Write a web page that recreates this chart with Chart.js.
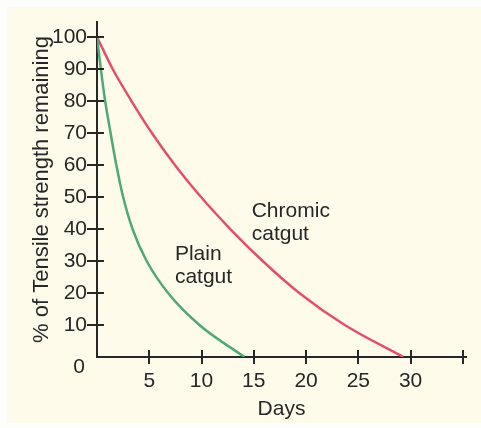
<!DOCTYPE html>
<html>
<head>
<meta charset="utf-8">
<script src="https://cdn.jsdelivr.net/npm/chart.js@4/dist/chart.umd.min.js"></script>
<style>
  html, body { margin: 0; padding: 0; background: #fdfdfb; }
  #panel { position: absolute; left: 7px; top: 7px; width: 474px; height: 416px; background: #fffbea; }
  canvas { display: block; }
</style>
</head>
<body>
<div id="panel"><canvas id="chart_catgut" width="474" height="416"></canvas></div>
<script>
// values
var plainDays = [0, 0.37, 0.78, 1.3, 1.85, 2.5, 3.4, 4.75, 6.8, 9.8, 14.1];
var plainStrength = [100, 90, 80, 70, 60, 50, 40, 30, 20, 10, 0];
var chromicDays = [0, 1.5, 3.3, 5.25, 7.45, 9.95, 12.75, 15.85, 19.35, 23.7, 29.3];
var chromicStrength = [100, 90, 80, 70, 60, 50, 40, 30, 20, 10, 0];

var yTicks = [0, 10, 20, 30, 40, 50, 60, 70, 80, 90, 100];
var xTicks = [0, 5, 10, 15, 20, 25, 30, 35];
var xTickLabels = ['', '5', '10', '15', '20', '25', '30', ''];
var curveNames = ['Plain catgut', 'Chromic catgut'];

var cores = ['#4ea878', '#e24f6b'];
var ink = '#272727';
var fontFamily = '"Liberation Sans", Arial, Helvetica, sans-serif';
var fontSize = 21;

function toPoints(xs, ys) {
    return xs.map(function(x, i) { return { x: x, y: ys[i] }; });
}

// tick marks that cross the axes, the lone "0" at the corner, and the curve labels
var axisExtras = {
    id: 'axisExtras',
    afterDraw: function(chart) {
        var ctx = chart.ctx;
        var xs = chart.scales.x, ys = chart.scales.y;
        var x0 = xs.getPixelForValue(0) - 1;
        var y0 = ys.getPixelForValue(0);
        ctx.save();
        ctx.strokeStyle = ink;
        ctx.lineWidth = 2;
        ctx.beginPath();
        yTicks.forEach(function(v) {
            if (v === 0) return;
            var p = Math.round(ys.getPixelForValue(v));
            ctx.moveTo(x0 - 9, p);
            ctx.lineTo(x0 + 8, p);
        });
        xTicks.forEach(function(v) {
            if (v === 0) return;
            var p = Math.round(xs.getPixelForValue(v));
            ctx.moveTo(p, y0 - 7);
            ctx.lineTo(p, y0 + 7);
        });
        ctx.stroke();

        ctx.fillStyle = ink;
        ctx.font = fontSize + 'px ' + fontFamily;
        ctx.textAlign = 'right';
        ctx.textBaseline = 'middle';
        ctx.fillText('0', x0 - 11, y0 + 10);

        ctx.textAlign = 'left';
        ctx.textBaseline = 'alphabetic';
        var spots = [[7.45, 30.2], [14.8, 43.8]];
        curveNames.forEach(function(name, i) {
            var px = xs.getPixelForValue(spots[i][0]);
            var py = ys.getPixelForValue(spots[i][1]);
            name.split(' ').forEach(function(word, j) {
                ctx.fillText(word, px, py + j * 23);
            });
        });
        ctx.restore();
    }
};

var ctx = document.getElementById('chart_catgut');
var chartLine = new Chart(ctx, {
    type: 'line',
    data: {
        datasets: [
            {
                label: curveNames[0],
                data: toPoints(plainDays, plainStrength),
                borderColor: cores[0],
                borderWidth: 2.5,
                pointRadius: 0,
                fill: false,
                cubicInterpolationMode: 'monotone'
            },
            {
                label: curveNames[1],
                data: toPoints(chromicDays, chromicStrength),
                borderColor: cores[1],
                borderWidth: 2.5,
                pointRadius: 0,
                fill: false,
                cubicInterpolationMode: 'monotone'
            }
        ]
    },
    options: {
        responsive: false,
        animation: false,
        layout: { padding: { top: 15, right: 15, bottom: 0, left: 0 } },
        plugins: {
            legend: { display: false },
            tooltip: { enabled: false }
        },
        scales: {
            x: {
                type: 'linear',
                min: 0,
                max: 35.3,
                afterBuildTicks: function(axis) {
                    axis.ticks = xTicks.map(function(v) { return { value: v }; });
                },
                afterFit: function(axis) {
                    axis.height = 66;
                    axis.paddingLeft = 0;
                    axis.paddingRight = 0;
                },
                ticks: {
                    padding: 12,
                    color: ink,
                    font: { size: fontSize, family: fontFamily },
                    maxRotation: 0,
                    callback: function(value) {
                        return xTickLabels[xTicks.indexOf(value)];
                    }
                },
                grid: { display: false, drawTicks: false },
                border: { display: true, color: ink, width: 2 },
                title: {
                    display: true,
                    text: 'Days',
                    color: ink,
                    font: { size: fontSize, family: fontFamily },
                    padding: { top: 0, bottom: 1 }
                }
            },
            y: {
                min: 0,
                max: 104.7,
                afterBuildTicks: function(axis) {
                    axis.ticks = yTicks.map(function(v) { return { value: v }; });
                },
                afterFit: function(axis) {
                    axis.width = 90;
                    axis.paddingTop = 0;
                    axis.paddingBottom = 0;
                },
                ticks: {
                    padding: 10,
                    color: ink,
                    font: { size: fontSize, family: fontFamily },
                    callback: function(value) {
                        return value === 0 ? '' : String(value);
                    }
                },
                grid: { display: false, drawTicks: false },
                border: { display: true, color: ink, width: 2 },
                title: {
                    display: true,
                    text: '% of Tensile strength remaining',
                    color: ink,
                    font: { size: 22, family: fontFamily },
                    padding: { top: 22, bottom: 0 }
                }
            }
        }
    },
    plugins: [axisExtras]
});
</script>
</body>
</html>
